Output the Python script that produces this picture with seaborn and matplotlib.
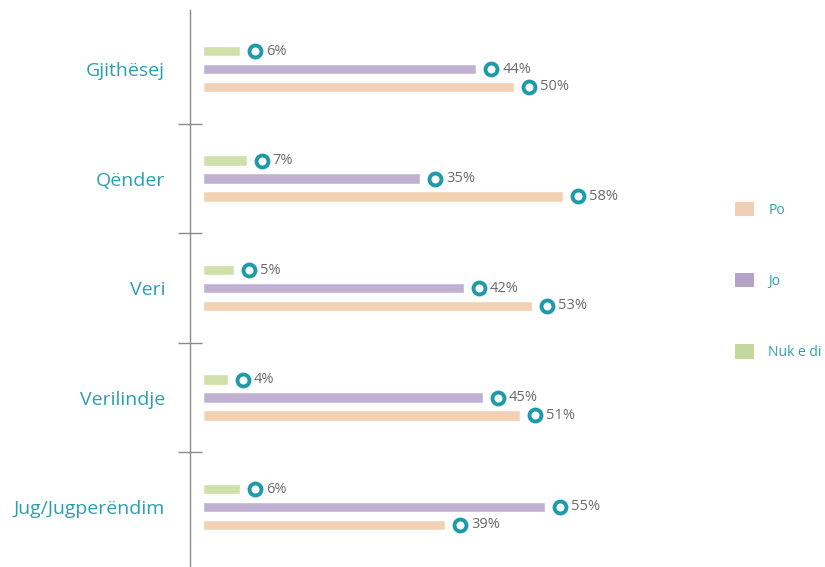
import matplotlib
matplotlib.use("Agg")
import matplotlib.pyplot as plt
from matplotlib.patches import Patch
import seaborn as sns
import pandas as pd
import numpy as np

regions = ["Gjithësej", "Qënder", "Veri", "Verilindje", "Jug/Jugperëndim"]
series = ["Nuk e di", "Jo", "Po"]
nuk_e_di = [6, 7, 5, 4, 6]
jo = [44, 35, 42, 45, 55]
po = [50, 58, 53, 51, 39]
legend_order = ["Po", "Jo", "Nuk e di"]

bar_colors = {"Nuk e di": "#d0e0aa", "Jo": "#c0b1d3", "Po": "#f2d1b3"}
legend_colors = {"Po": "#f2cfb4", "Jo": "#b3a3c9", "Nuk e di": "#c4d89e"}
teal = "#1e9aab"
label_teal = "#2a9fb2"

rows = []
for name, vals in zip(series, [nuk_e_di, jo, po]):
    for r, v in zip(regions, vals):
        rows.append({"region": r, "series": name, "value": v})
df = pd.DataFrame(rows)

sns.set_theme(style="white")
plt.rcParams["font.family"] = ["Open Sans", "DejaVu Sans"]

fig = plt.figure(figsize=(8.25, 5.67), dpi=100)
ax = fig.add_axes([190 / 825, 0.0, 510 / 825, 1 - 10 / 567])

sns.barplot(data=df, y="region", x="value", hue="series", order=regions,
            hue_order=series, palette=bar_colors, orient="h", width=0.49,
            gap=0.4, saturation=1, legend=False, ax=ax)

x0, x1 = -2.1, 80.0
ax.set_xlim(x0, x1)
ax.set_ylim(4.548, -0.539)
ppu = 510 / (x1 - x0)

n = len(series)
slot = 0.49 / n
for i, name in enumerate(series):
    vals = df[df["series"] == name]["value"].to_numpy()
    for j, v in enumerate(vals):
        y = j - 0.49 / 2 + slot * (i + 0.5)
        ax.plot(v + 15 / ppu, y, marker="o", ms=8.6, mew=2.8, mec=teal,
                mfc="white", linestyle="none", zorder=5, clip_on=False)
        ax.text(v + 26 / ppu, y, f"{v}%", va="center", ha="left",
                fontsize=10.5, color="#6b6b6b")

for s in ["top", "right", "bottom"]:
    ax.spines[s].set_visible(False)
ax.spines["left"].set_color("#8a8a8a")
ax.spines["left"].set_linewidth(1.0)
ax.set_xticks([])
ax.set_xlabel("")
ax.set_ylabel("")
ax.set_yticks(range(len(regions)))
ax.set_yticklabels(regions, fontsize=14, color=label_teal)
ax.tick_params(axis="y", which="major", left=False, length=0, pad=18)
ax.set_yticks([0.5, 1.5, 2.5, 3.5], minor=True)
ax.tick_params(axis="y", which="minor", left=True, length=17, direction="inout",
               color="#8a8a8a", width=1.0)

handles = [Patch(facecolor=legend_colors[k], edgecolor="none") for k in legend_order]
leg = fig.legend(handles, legend_order, loc="center left",
                 bbox_to_anchor=(728 / 825, 1 - 281 / 567), frameon=False,
                 handlelength=1.4, handleheight=1.2, labelspacing=4.0,
                 handletextpad=1.0, borderpad=0, fontsize=10)
for t in leg.get_texts():
    t.set_color(label_teal)

fig.savefig("out.png", dpi=100)
